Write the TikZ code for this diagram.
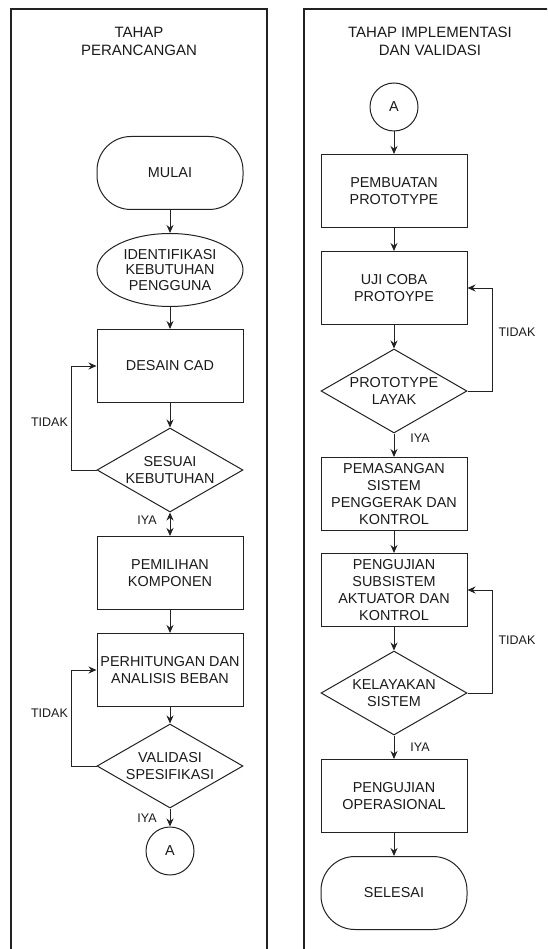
\documentclass[tikz,border=0pt]{standalone}
\usepackage{fontspec}
\setmainfont{Liberation Sans}
\usetikzlibrary{shapes.geometric,arrows.meta}
\definecolor{ln}{HTML}{222222}
\definecolor{tx}{HTML}{1A1A1A}
\tikzset{
  base/.style={draw=ln, line width=1pt, text=tx, align=center, inner sep=1.5pt,
    font=\fontsize{14.4}{17}\selectfont},
  procbox/.style={base, rectangle, minimum width=146pt, minimum height=73pt},
  termbox/.style={base, rectangle, rounded corners=34pt, minimum width=146pt, minimum height=73pt},
  ellbox/.style={base, ellipse, minimum width=146pt, minimum height=73pt, inner sep=0pt,
    font=\fontsize{14.4}{15.5}\selectfont},
  decbox/.style={base, diamond, minimum width=146pt, minimum height=84pt, aspect=1.74, inner sep=0pt},
  conn/.style={base, circle, minimum size=48pt, inner sep=0pt},
  arr/.style={draw=ln, line width=1pt, -{Stealth[length=8pt,width=7pt]}},
  darr/.style={draw=ln, line width=1pt, {Stealth[length=8pt,width=7pt]}-{Stealth[length=8pt,width=7pt]}},
  lab/.style={text=tx, font=\fontsize{12.5}{15}\selectfont, inner sep=0pt},
  ttl/.style={text=tx, align=center, font=\fontsize{15}{18}\selectfont, inner sep=0pt},
  panel/.style={draw=ln, line width=1.1pt}
}
\begin{document}
\begin{tikzpicture}[x=1pt,y=-1pt]
\useasboundingbox (0,0) rectangle (547,949);
\clip (0,0) rectangle (547,949);
% panels
\draw[panel] (11,9) rectangle (267,975);
\draw[panel] (304,9) rectangle (580,975);
\node[ttl] (t1) at (139,41) {TAHAP\\PERANCANGAN};
\node[ttl] (t2) at (430,41) {TAHAP IMPLEMENTASI\\DAN VALIDASI};
% left column
\node[termbox] (mulai) at (170,173) {MULAI};
\node[ellbox] (ident) at (170,270) {IDENTIFIKASI\\KEBUTUHAN\\PENGGUNA};
\node[procbox] (desain) at (170,366) {DESAIN CAD};
\node[decbox] (sesuai) at (170,470) {SESUAI\\KEBUTUHAN};
\node[procbox] (pilih) at (170,573) {PEMILIHAN\\KOMPONEN};
\node[procbox] (hitung) at (170,670) {PERHITUNGAN DAN\\ANALISIS BEBAN};
\node[decbox] (valid) at (170,766) {VALIDASI\\SPESIFIKASI};
\node[conn] (a1) at (170,851) {A};
% right column
\node[conn] (a2) at (394,107) {A};
\node[procbox] (buat) at (394,191) {PEMBUATAN\\PROTOTYPE};
\node[procbox] (uji) at (394,288) {UJI COBA\\PROTOYPE};
\node[decbox] (layak) at (394,391) {PROTOTYPE\\LAYAK};
\node[procbox] (pasang) at (394,494) {PEMASANGAN\\SISTEM\\PENGGERAK DAN\\KONTROL};
\node[procbox] (subsis) at (394,590) {PENGUJIAN\\SUBSISTEM\\AKTUATOR DAN\\KONTROL};
\node[decbox] (kelayak) at (394,693) {KELAYAKAN\\SISTEM};
\node[procbox] (operas) at (394,796) {PENGUJIAN\\OPERASIONAL};
\node[termbox] (selesai) at (394,893) {SELESAI};
% left connectors
\draw[arr] (mulai) -- (ident);
\draw[arr] (ident) -- (desain);
\draw[arr] (desain) -- (sesuai);
\draw[arr] (sesuai.west) -- ++(-25,0) |- (desain.west);
\draw[darr] (sesuai.south) -- (pilih.north);
\draw[arr] (pilih) -- (hitung);
\draw[arr] (hitung) -- (valid);
\draw[arr] (valid.west) -- ++(-25,0) |- (hitung.west);
\draw[arr] (valid.south) -- (a1.north);
\node[lab] (l1) at (49.5,422) {TIDAK};
\node[lab] (l2) at (147,520) {IYA};
\node[lab] (l3) at (49.5,713) {TIDAK};
\node[lab] (l4) at (147,818) {IYA};
% right connectors
\draw[arr] (a2.south) -- (buat.north);
\draw[arr] (buat) -- (uji);
\draw[arr] (uji) -- (layak);
\draw[arr] (layak.east) -- ++(25,0) |- (uji.east);
\draw[arr] (layak.south) -- (pasang.north);
\draw[arr] (pasang) -- (subsis);
\draw[arr] (subsis) -- (kelayak);
\draw[arr] (kelayak.east) -- ++(25,0) |- (subsis.east);
\draw[arr] (kelayak.south) -- (operas.north);
\draw[arr] (operas) -- (selesai);
\node[lab] (r1) at (517,332) {TIDAK};
\node[lab] (r2) at (420,438) {IYA};
\node[lab] (r3) at (517,640) {TIDAK};
\node[lab] (r4) at (420,747) {IYA};
\end{tikzpicture}
\end{document}
